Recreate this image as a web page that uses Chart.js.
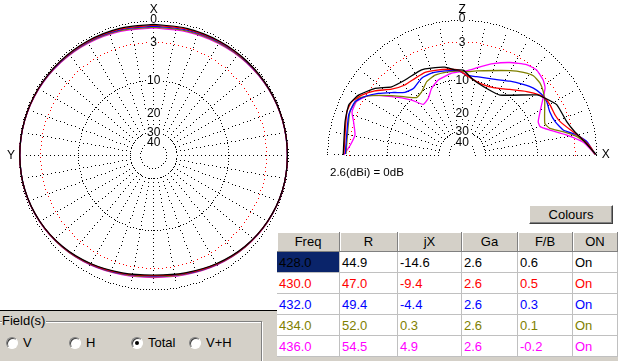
<!DOCTYPE html>
<html lang="en">
<head>
<meta charset="UTF-8">
<title>Pattern</title>
<script src="https://cdn.jsdelivr.net/npm/chart.js"></script>
<style>
    body { margin: 0; background: #fff; font-family: Arial, "Liberation Sans", sans-serif; }
    .win { position: relative; width: 618px; height: 361px; overflow: hidden; background: #fff; }
    canvas { position: absolute; }
    #azimuth { left: 0; top: 0; }
    #elevation { left: 310px; top: 0; }
    .panel { position: absolute; left: 0; top: 310px; width: 277px; height: 51px; background: #d4d0c8; border-top: 1px solid #000; box-sizing: border-box; }
    .group { position: absolute; left: -2px; top: 10px; width: 262px; height: 60px; border: 1px solid #808080; box-shadow: 1px 1px 0 #fff, inset 1px 1px 0 #fff; }
    .glabel { position: absolute; left: 2px; top: 2px; font-size: 13px; line-height: 15px; background: #d4d0c8; padding-right: 1px; }
    .radio { position: absolute; top: 26px; width: 12px; height: 12px; border-radius: 50%; background: #fff; box-sizing: border-box;
             border: 1px solid; border-color: #808080 #fff #fff #808080; box-shadow: inset 1px 1px 0 #404040; }
    .radio.on::after { content: ""; position: absolute; left: 3px; top: 3px; width: 4px; height: 4px; border-radius: 50%; background: #000; }
    .rtext { position: absolute; top: 24px; font-size: 13px; line-height: 15px; }
    .button { position: absolute; left: 529px; top: 205px; width: 84px; height: 19px; box-sizing: border-box; background: #d4d0c8;
              border: 1px solid; border-color: #fff #404040 #404040 #fff; box-shadow: inset -1px -1px 0 #808080;
              font-size: 13px; line-height: 17px; text-align: center; }
    .grid { position: absolute; left: 277px; top: 232px; width: 341px; height: 129px; background: #d4d0c8; }
    .cell { position: absolute; box-sizing: border-box; height: 21px; background: #fff; font-size: 13px; line-height: 21px;
            padding-left: 2px; border-right: 1px solid #c0c0c0; border-bottom: 1px solid #c0c0c0; white-space: nowrap; }
    .head { height: 20px; line-height: 19px; background: #d4d0c8; text-align: center; padding-left: 0;
            border-right: 1px solid #808080; border-bottom: 1px solid #808080; box-shadow: inset 1px 1px 0 #fff; }
    .sel { background: #0a246a; }
    .note { position: absolute; left: 330px; top: 165px; font-size: 11.5px; line-height: 14px; }
</style>
</head>
<body>
<div class="win">
    <canvas id="azimuth" width="307" height="310"></canvas>
    <canvas id="elevation" width="308" height="185"></canvas>
    <div class="note">2.6(dBi) = 0dB</div>
    <div class="button">Colours</div>
    <div class="panel">
        <div class="group"></div>
        <div class="glabel">Field(s)</div>
        <span class="radio" style="left:6px"></span><span class="rtext" style="left:23px">V</span>
        <span class="radio" style="left:69px"></span><span class="rtext" style="left:86px">H</span>
        <span class="radio on" style="left:131px"></span><span class="rtext" style="left:148px">Total</span>
        <span class="radio" style="left:189px"></span><span class="rtext" style="left:206px">V+H</span>
    </div>
    <div class="grid" id="grid"></div>
</div>
<script>
    // table values
    const columns = ['Freq', 'R', 'jX', 'Ga', 'F/B', 'ON'];
    const freqs = ['428.0', '430.0', '432.0', '434.0', '436.0'];
    const resistance = ['44.9', '47.0', '49.4', '52.0', '54.5'];
    const reactance = ['-14.6', '-9.4', '-4.4', '0.3', '4.9'];
    const gains = ['2.6', '2.6', '2.6', '2.6', '2.6'];
    const frontBack = ['0.6', '0.5', '0.3', '0.1', '-0.2'];
    const onState = ['On', 'On', 'On', 'On', 'On'];
    const colours = ['#000000', '#ff0000', '#0000ff', '#808000', '#ff00ff'];

    // azimuth pattern (dB, relative to 2.6 dBi), angle from X towards Y
    const azAngles = [0, 15, 30, 45, 60, 75, 90, 105, 120, 135, 150, 165, 180, 195, 210, 225, 240, 255, 270, 285, 300, 315, 330, 345];
    const az428 = [-0.43, -0.38, -0.3, -0.22, -0.14, -0.08, -0.07, -0.15, -0.38, -0.75, -1.25, -1.75, -2.03, -1.75, -1.25, -0.75, -0.38, -0.15, -0.1, -0.1, -0.16, -0.24, -0.33, -0.4];
    const az430 = [-0.55, -0.48, -0.37, -0.26, -0.16, -0.09, -0.07, -0.14, -0.37, -0.72, -1.2, -1.68, -1.94, -1.68, -1.2, -0.72, -0.37, -0.14, -0.1, -0.11, -0.18, -0.29, -0.41, -0.51];
    const az432 = [-0.67, -0.58, -0.44, -0.3, -0.18, -0.1, -0.08, -0.14, -0.36, -0.7, -1.15, -1.61, -1.85, -1.61, -1.15, -0.7, -0.36, -0.14, -0.1, -0.12, -0.2, -0.33, -0.49, -0.62];
    const az434 = [-0.8, -0.69, -0.52, -0.35, -0.2, -0.11, -0.08, -0.13, -0.35, -0.67, -1.1, -1.54, -1.76, -1.54, -1.1, -0.67, -0.35, -0.13, -0.1, -0.13, -0.22, -0.38, -0.58, -0.74];
    const az436 = [-0.92, -0.79, -0.6, -0.4, -0.22, -0.11, -0.08, -0.13, -0.34, -0.65, -1.05, -1.47, -1.67, -1.47, -1.05, -0.65, -0.34, -0.13, -0.11, -0.14, -0.24, -0.42, -0.66, -0.85];

    // elevation pattern, angle from X up to Z
    const el428Ang = [180, 164, 156, 150, 142.6, 136, 127.3, 117.8, 113.4, 107.2, 101.1, 94.8, 89.3, 81.6, 69.8, 57.8, 38.8, 34.4, 27.9, 17.7, 11.7, 6.2, 1.4, 0];
    const el428 = [-2.1, -1.7, -1.4, -2.0, -3.5, -5.4, -6.1, -6.1, -6.2, -6.6, -7.0, -7.8, -7.9, -9.8, -11.0, -11.0, -5.8, -5.0, -3.9, -3.5, -2.7, -1.5, -0.4, 0];
    const el430Ang = [179.5, 159.4, 154.2, 149.2, 143.7, 137, 129.3, 121.6, 114.2, 107.7, 99.2, 92.6, 84.2, 76.1, 65.2, 54, 44.5, 37.6, 34.4, 29.7, 23.3, 18.8, 13.1, 8.8, 3.7, 0.3];
    const el430 = [-2.2, -1.5, -1.6, -2.4, -3.7, -5.7, -6.8, -6.9, -6.8, -7.1, -7.5, -7.9, -9.4, -10.3, -10.2, -8.7, -6.8, -5.4, -5.0, -4.9, -4.9, -4.5, -3.3, -2.1, -0.8, -0.2];
    const el432Ang = [179.5, 160.6, 153.6, 149, 143.7, 138.5, 132.4, 126.3, 117.8, 110.5, 101.5, 92.6, 86.8, 79.5, 67.7, 57.1, 49.2, 43.2, 37.4, 32.2, 26.3, 19.7, 13.9, 9.9, 6.1, 0.3];
    const el432 = [-2.4, -1.9, -2.0, -2.9, -4.4, -6.1, -7.9, -8.4, -7.5, -7.4, -7.7, -8.0, -8.9, -9.0, -8.5, -7.3, -6.3, -5.5, -5.1, -5.1, -5.5, -5.3, -4.4, -2.5, -1.2, -0.2];
    const el434Ang = [179.5, 158.9, 151.4, 146.8, 139.9, 134.5, 128.5, 122.6, 115.8, 108.8, 99.5, 92.7, 86.9, 80.2, 60.4, 53.5, 48.1, 42.7, 38, 32.8, 20.9, 16.9, 13, 9.1, 5.4, 0.3];
    const el434 = [-2.5, -1.9, -2.2, -3.7, -6.5, -8.6, -10.4, -10.0, -8.6, -8.0, -8.0, -8.1, -8.2, -7.8, -5.6, -4.6, -4.0, -4.1, -4.6, -5.4, -7.2, -6.6, -4.5, -2.5, -1.3, -0.2];
    const el436Ang = [180, 174.9, 169.4, 163, 158.6, 153.2, 147.7, 140.4, 132.6, 127.5, 120.9, 114.6, 107.7, 97.3, 88.1, 84.8, 78.6, 71.3, 62.7, 54.6, 48.8, 42.8, 38.9, 32.2, 23.6, 20, 15.9, 10.8, 6, 0.3];
    const el436 = [-2.2, -3.1, -3.6, -2.9, -2.2, -2.2, -3.3, -6.6, -10.1, -12.8, -12.2, -10.4, -9.2, -8.4, -8.1, -7.8, -6.9, -5.7, -4.4, -3.3, -3.0, -3.4, -4.0, -6.2, -8.3, -8.3, -6.7, -4.0, -1.7, -0.2];

    const ringLevels = [0, -3, -10, -30, -40];
    const labelLevels = [0, -3, -10, -20, -30, -40];

    // ARRL log scale: 2 dB per 0.89 of radius
    function rad(db) {
        return Math.pow(0.89, -db / 2);
    }
    const toRad = d => d * Math.PI / 180;

    // table
    const grid = document.getElementById('grid');
    const colEdges = [0, 63, 121, 185, 241, 296, 341];
    const rowsData = [freqs, resistance, reactance, gains, frontBack, onState];
    columns.forEach((name, c) => {
        const h = document.createElement('div');
        h.className = 'cell head';
        h.style.left = colEdges[c] + 'px';
        h.style.top = '0px';
        h.style.width = (colEdges[c + 1] - colEdges[c]) + 'px';
        h.textContent = name;
        grid.appendChild(h);
        freqs.forEach((f, r) => {
            const d = document.createElement('div');
            d.className = 'cell' + (r === 0 && c === 0 ? ' sel' : '');
            d.style.left = colEdges[c] + 'px';
            d.style.top = (20 + r * 21) + 'px';
            d.style.width = (colEdges[c + 1] - colEdges[c]) + 'px';
            d.style.color = colours[r];
            d.textContent = rowsData[c][r];
            grid.appendChild(d);
        });
    });

    const polarGrid = {
        id: 'polarGrid',
        beforeDatasetsDraw(chart, args, opts) {
            const ctx = chart.ctx;
            const xs = chart.scales.x, ys = chart.scales.y;
            const cx = xs.getPixelForValue(0), cy = ys.getPixelForValue(0);
            const px = v => xs.getPixelForValue(v) - cx;
            const span = opts.half ? Math.PI : 2 * Math.PI;
            ctx.save();
            ringLevels.forEach(db => {
                const R = px(rad(db));
                const step = db === -3 ? 4 : 3;
                const n = Math.round(span * R / step);
                ctx.fillStyle = db === -3 ? '#ff0000' : '#000000';
                for (let i = 0; i <= n; i++) {
                    const a = span * i / n;
                    ctx.fillRect(Math.round(cx + R * Math.cos(a) - 0.5), Math.round(cy - R * Math.sin(a) - 0.5), 1, 1);
                }
            });
            // spokes every 10 degrees
            ctx.fillStyle = '#000000';
            const r0 = px(rad(-30)), r1 = px(rad(0)) - 4;
            const nSp = opts.half ? 18 : 36;
            for (let k = 0; k <= nSp; k++) {
                if (!opts.half && k === 36) break;
                const a = toRad(k * 10);
                for (let r = r0; r <= r1; r += 4) {
                    ctx.fillRect(Math.round(cx + r * Math.cos(a) - 0.5), Math.round(cy - r * Math.sin(a) - 0.5), 1, 1);
                }
            }
            // ring labels
            ctx.font = '12px Arial, "Liberation Sans"';
            ctx.textAlign = 'center';
            ctx.textBaseline = 'middle';
            labelLevels.forEach(db => {
                const R = px(rad(db));
                const t = String(-db);
                const w = ctx.measureText(t).width;
                ctx.fillStyle = '#ffffff';
                ctx.fillRect(Math.round(cx - w / 2 - 1), Math.round(cy - R - 5), Math.ceil(w + 2), 10);
                ctx.fillStyle = '#000000';
                ctx.fillText(t, cx, cy - R - (db === 0 ? 2 : 0) + 0.5);
            });
            // axis letters
            ctx.font = '12px Arial, "Liberation Sans"';
            const Rout = px(rad(0));
            ctx.fillText(opts.top, cx, 10);
            if (opts.half) ctx.fillText(opts.side, cx + Rout + 9, cy);
            else ctx.fillText(opts.side, 11, cy);
            ctx.restore();
        }
    };

    function baseOptions(w, h, cx, cy, S, half, top, side) {
        return {
            responsive: false,
            animation: false,
            events: [],
            layout: { padding: 0 },
            plugins: {
                legend: { display: false },
                tooltip: { enabled: false },
                polarGrid: { half: half, top: top, side: side }
            },
            scales: {
                x: { type: 'linear', display: false, min: -cx / S, max: (w - cx) / S },
                y: { type: 'linear', display: false, min: -(h - cy) / S, max: cy / S }
            }
        };
    }

    // azimuth chart
    const azSeries = [az428, az430, az432, az434, az436];
    new Chart(document.getElementById('azimuth'), {
        type: 'scatter',
        data: {
            datasets: azSeries.map((vals, i) => {
                const pts = azAngles.map((a, j) => ({
                    x: -rad(vals[j]) * Math.sin(toRad(a)),
                    y: rad(vals[j]) * Math.cos(toRad(a))
                }));
                pts.push(pts[0]);
                return {
                    label: freqs[i],
                    data: pts,
                    showLine: true,
                    borderColor: colours[i],
                    borderWidth: 1.2,
                    pointRadius: 0,
                    tension: 0.4
                };
            })
        },
        options: baseOptions(307, 310, 153.7, 155.5, 134.5, false, 'X', 'Y'),
        plugins: [polarGrid]
    });

    // elevation chart
    const elSeries = [[el428Ang, el428], [el430Ang, el430], [el432Ang, el432], [el434Ang, el434], [el436Ang, el436]];
    new Chart(document.getElementById('elevation'), {
        type: 'scatter',
        data: {
            datasets: elSeries.map(([angs, vals], i) => ({
                label: freqs[i],
                data: angs.map((a, j) => ({
                    x: rad(vals[j]) * Math.cos(toRad(a)),
                    y: rad(vals[j]) * Math.sin(toRad(a))
                })),
                showLine: true,
                borderColor: colours[i],
                borderWidth: 1.3,
                pointRadius: 0,
                tension: 0.15
            }))
        },
        options: baseOptions(308, 185, 152.2, 155, 134.5, true, 'Z', 'X'),
        plugins: [polarGrid]
    });
</script>
</body>
</html>
